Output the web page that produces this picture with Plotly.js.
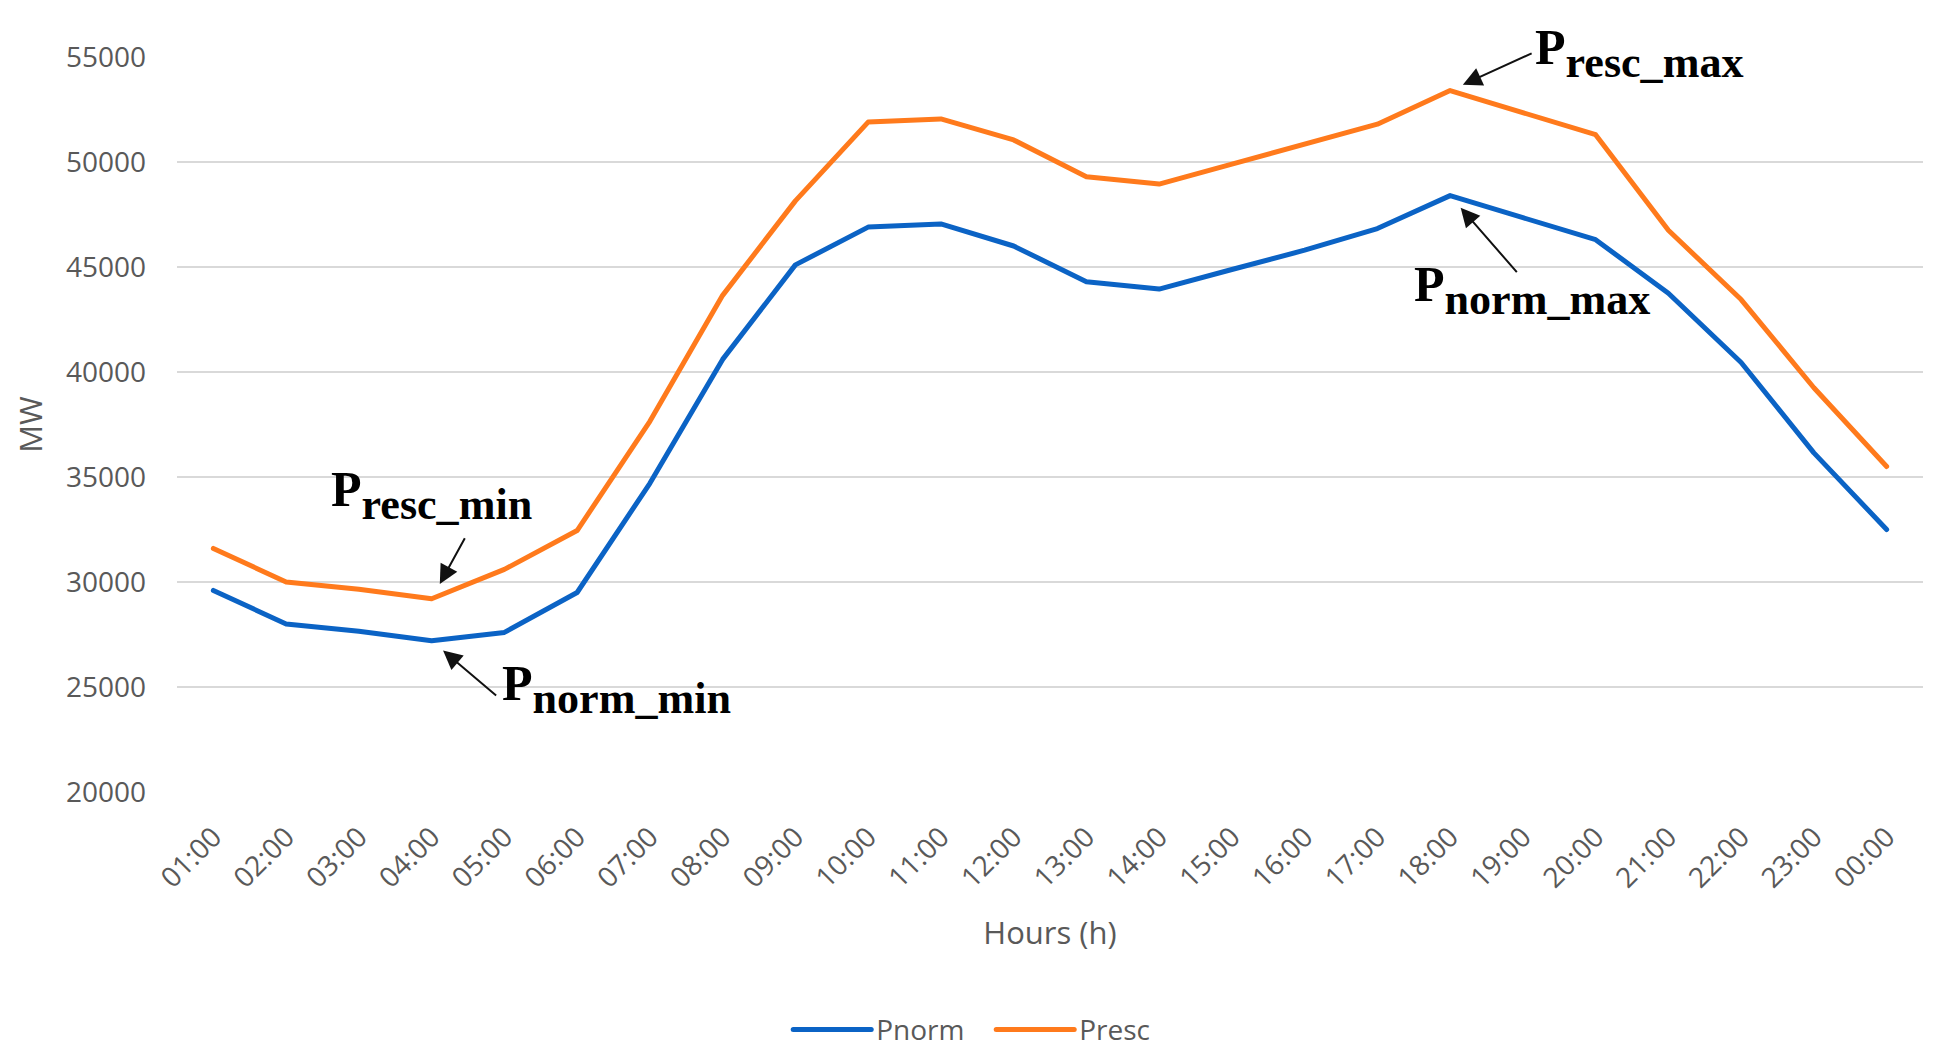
<!DOCTYPE html>
<html><head><meta charset="utf-8">
<script src="https://cdn.plot.ly/plotly-3.0.1.min.js"></script>
<style>html,body{margin:0;padding:0;background:#fff}#chart{width:1936px;height:1054px}</style>
</head><body><div id="chart"></div>
<script>
const hours = ['01:00','02:00','03:00','04:00','05:00','06:00','07:00','08:00','09:00','10:00','11:00','12:00',
               '13:00','14:00','15:00','16:00','17:00','18:00','19:00','20:00','21:00','22:00','23:00','00:00'];
const pnorm = [29600, 28000, 27650, 27200, 27600, 29500, 34700, 40600, 45100, 46900, 47050, 46000,
               44300, 43950, 44880, 45800, 46830, 48400, 47350, 46300, 43750, 40450, 36150, 32500];
const presc = [31600, 30000, 29650, 29200, 30600, 32450, 37650, 43650, 48150, 51900, 52050, 51050,
               49300, 48950, 49900, 50850, 51800, 53400, 52350, 51300, 46750, 43450, 39250, 35500];
const seriesNames = ['Pnorm', 'Presc'];
const seriesColors = ['#0B63C5', '#FF7A1C'];
const yTickVals = [20000, 25000, 30000, 35000, 40000, 45000, 50000, 55000];
const xTitle = 'Hours (h)';
const yTitle = 'MW';
const subNames = ['resc_min', 'norm_min', 'resc_max', 'norm_max'];

const argMin = a => a.indexOf(Math.min(...a));
const argMax = a => a.indexOf(Math.max(...a));
const iRmin = argMin(presc), iNmin = argMin(pnorm), iRmax = argMax(presc), iNmax = argMax(pnorm);

const traces = [
  {x: hours, y: pnorm, name: seriesNames[0], type: 'scatter', mode: 'lines',
   line: {color: seriesColors[0], width: 5}},
  {x: hours, y: presc, name: seriesNames[1], type: 'scatter', mode: 'lines',
   line: {color: seriesColors[1], width: 5}}
];

const labFont = {family: 'Liberation Serif, Times New Roman, serif', size: 63, color: '#000000'};
function lab(sub) { return '<b><span style="font-size:50px">P</span><sub>' + sub + '</sub></b>'; }
function textAnn(xv, yv, sub, xs, ys) {
  return {x: xv, y: yv, xref: 'x', yref: 'y', text: lab(sub), showarrow: false,
          xanchor: 'left', yanchor: 'middle', xshift: xs, yshift: ys, font: labFont};
}
function arrowAnn(xv, yv, ax, ay, so) {
  return {x: xv, y: yv, xref: 'x', yref: 'y', text: '', showarrow: true, ax: ax, ay: ay,
          arrowhead: 2, arrowsize: 1.9, arrowwidth: 2, arrowcolor: '#111111', standoff: so};
}

const annotations = [
  textAnn(hours[iRmin], presc[iRmin], subNames[0], -103, 104),
  arrowAnn(hours[iRmin], presc[iRmin], 34, -62, 17),
  textAnn(hours[iNmin], pnorm[iNmin], subNames[1], 68, -48),
  arrowAnn(hours[iNmin], pnorm[iNmin], 66, 56, 15),
  textAnn(hours[iRmax], presc[iRmax], subNames[2], 83, 38),
  arrowAnn(hours[iRmax], presc[iRmax], 83, -38, 14),
  textAnn(hours[iNmax], pnorm[iNmax], subNames[3], -38, -94),
  arrowAnn(hours[iNmax], pnorm[iNmax], 68, 78, 16)
];

const axFont = {family: 'Open Sans, Noto Sans, sans-serif', size: 28, color: '#595959'};
const layout = {
  width: 1936, height: 1054,
  margin: {l: 177, r: 13, t: 57, b: 262},
  paper_bgcolor: '#ffffff', plot_bgcolor: '#ffffff',
  font: axFont,
  showlegend: true,
  legend: {orientation: 'h', xref: 'container', yref: 'container', x: 0.512, xanchor: 'center',
           y: 0.023, yanchor: 'middle', font: {family: 'Open Sans, sans-serif', size: 28, color: '#595959'},
           itemwidth: 78, tracegroupgap: 0, entrywidth: 110, entrywidthmode: 'pixels'},
  xaxis: {type: 'category', range: [-0.5, 23.5], showgrid: false, zeroline: false, showline: false,
          ticks: '', tickmode: 'array', tickvals: hours, ticktext: hours, tickangle: -45,
          tickfont: {family: 'Open Sans, sans-serif', size: 28, color: '#595959'},
          ticklabelstandoff: 22,
          title: {text: xTitle, standoff: 28, font: {family: 'Open Sans, sans-serif', size: 31, color: '#595959'}}},
  yaxis: {range: [20000, 55000], tickmode: 'array', tickvals: yTickVals, ticktext: yTickVals.map(String),
          showgrid: true, gridcolor: '#d9d9d9', gridwidth: 2, zeroline: false, showline: false, ticks: '',
          tickfont: {family: 'Open Sans, sans-serif', size: 28, color: '#595959'},
          ticklabelstandoff: 30,
          title: {text: yTitle, standoff: 14, font: {family: 'Open Sans, sans-serif', size: 31, color: '#595959'}}},
  annotations: annotations
};

Plotly.newPlot('chart', traces, layout, {displayModeBar: false, staticPlot: true}).then(function(gd) {
  gd.querySelectorAll('.legendlines path').forEach(function(p) {
    p.setAttribute('d', 'M5,0h78');
    p.style.strokeLinecap = 'round';
  });
  gd.querySelectorAll('.scatterlayer .js-line').forEach(function(p) {
    p.style.strokeLinejoin = 'round';
    p.style.strokeLinecap = 'round';
  });
});
</script>
</body></html>
